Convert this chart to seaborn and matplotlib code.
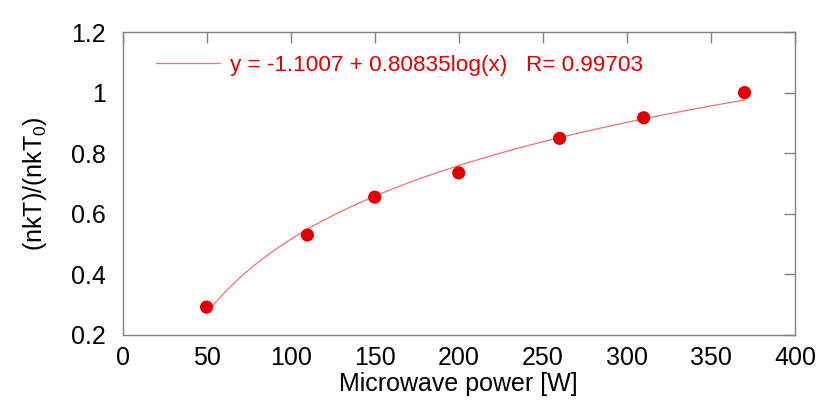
import matplotlib
matplotlib.use("Agg")
import matplotlib.pyplot as plt
import seaborn as sns
import pandas as pd

power = [50, 110, 150, 200, 260, 310, 370]
ratio = [0.292, 0.530, 0.655, 0.735, 0.849, 0.917, 1.000]
fit_label = "y = -1.1007 + 0.80835log(x)   R= 0.99703"

df = pd.DataFrame({"power": power, "ratio": ratio})

sns.set_theme(style="white")
plt.rcParams['font.family'] = ['Liberation Sans', 'DejaVu Sans']
plt.rcParams['mathtext.fontset'] = 'custom'
plt.rcParams['mathtext.rm'] = 'Liberation Sans'
plt.rcParams['mathtext.it'] = 'Liberation Sans'

fig = plt.figure(figsize=(8.22, 4.05), dpi=100)
ax = fig.add_axes([122.5/822, 1 - 335/405, (795-122.5)/822, (335-32)/405])

sns.regplot(data=df, x="power", y="ratio", logx=True, ci=None, ax=ax,
            scatter_kws=dict(s=90, color="#e00000", edgecolor="none", alpha=1, zorder=3),
            line_kws=dict(color="#f07070", lw=0.9, label=fit_label))

ax.set_xlim(0, 400)
ax.set_ylim(0.2, 1.2)
ax.set_xticks(range(0, 401, 50))
ax.set_yticks([0.2, 0.4, 0.6, 0.8, 1.0, 1.2])
ax.set_yticklabels(["0.2", "0.4", "0.6", "0.8", "1", "1.2"])
ax.tick_params(direction="in", length=8, width=1, color="#808080",
               top=True, right=True, labelsize=18, labelcolor="black")
ax.tick_params(axis="x", pad=8)
ax.tick_params(axis="y", pad=12)
for sp in ax.spines.values():
    sp.set_color("#808080")
    sp.set_linewidth(1)

ax.set_xlabel("Microwave power [W]", fontsize=18, color="black", labelpad=1)
ax.set_ylabel("(nkT)/(nkT$_0$)", fontsize=18, color="black", labelpad=16)

leg = ax.legend(loc="upper left", frameon=False, fontsize=16.2,
                handlelength=2.85, handletextpad=0.45,
                bbox_to_anchor=(0.02, 0.99))
for t in leg.get_texts():
    t.set_color("#e00000")

fig.savefig("out.png", dpi=100)
